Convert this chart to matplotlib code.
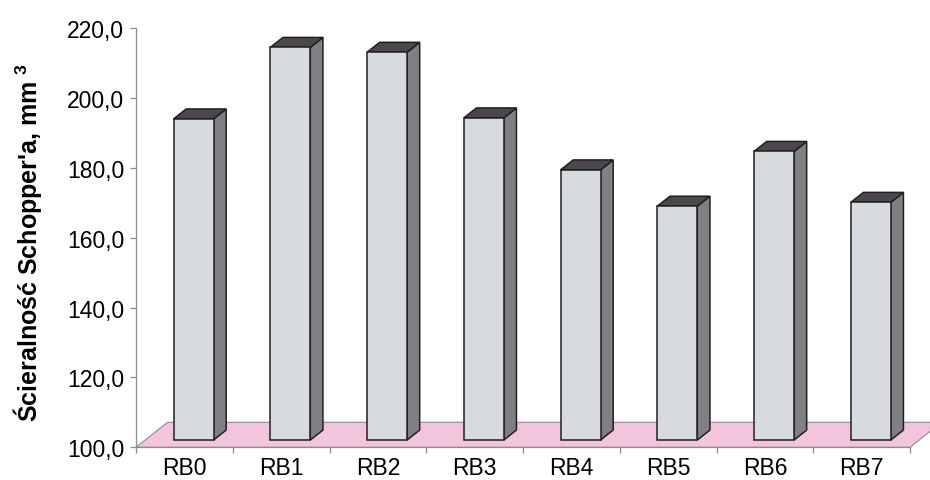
import matplotlib
matplotlib.use("Agg")
import matplotlib.pyplot as plt
from matplotlib.patches import Polygon
from matplotlib.ticker import FixedLocator

# Data
categories = ["RB0", "RB1", "RB2", "RB3", "RB4", "RB5", "RB6", "RB7"]
values = [192.0, 212.5, 211.1, 192.3, 177.4, 167.0, 182.7, 168.1]
y_ticks = [100, 120, 140, 160, 180, 200, 220]
y_label = "Ścieralność Schopper'a, mm $^{\\mathbf{3}}$"

plt.rcParams["font.family"] = ["Liberation Sans", "DejaVu Sans"]
plt.rcParams["mathtext.fontset"] = "custom"
plt.rcParams["mathtext.rm"] = "Liberation Sans"
plt.rcParams["mathtext.bf"] = "Liberation Sans:bold"

W, H = 930, 481
fig = plt.figure(figsize=(W / 100, H / 100), dpi=100)
ax_left, ax_right = 136, 910
ax_top, ax_bottom = 29.5, 448.3
ax = fig.add_axes([ax_left / W, (H - ax_bottom) / H,
                   (ax_right - ax_left) / W, (ax_bottom - ax_top) / H])
n = len(categories)
ymin, ymax = y_ticks[0], y_ticks[-1]
ax.set_xlim(0, n)
ax.set_ylim(ymin, ymax)

# pseudo-3D geometry expressed in data units
px_per_cat = (ax_right - ax_left) / n
px_per_val = (ax_bottom - ax_top) / (ymax - ymin)
depth_x = 31.6 / px_per_cat
depth_y = 25.0 / px_per_val
front, back = 0.29, 0.69
bar_w = 40.0 / px_per_cat

edge = "#231F20"
c_front, c_side, c_top = "#D8DBDE", "#807F84", "#4B474D"

# floor
floor = Polygon([(0, ymin), (n, ymin), (n + depth_x, ymin + depth_y),
                 (depth_x, ymin + depth_y)], closed=True,
                facecolor="#F2C5DC", edgecolor="#8C8C8C", lw=0.8,
                clip_on=False, zorder=1)
ax.add_patch(floor)

fx, fy = front * depth_x, front * depth_y
bx, by = back * depth_x, back * depth_y
for i, v in enumerate(values):
    x0 = i + 0.5 - bar_w / 2
    x1 = x0 + bar_w
    face = [(x0 + fx, ymin + fy), (x1 + fx, ymin + fy), (x1 + fx, v + fy), (x0 + fx, v + fy)]
    side = [(x1 + fx, ymin + fy), (x1 + bx, ymin + by), (x1 + bx, v + by), (x1 + fx, v + fy)]
    top = [(x0 + fx, v + fy), (x1 + fx, v + fy), (x1 + bx, v + by), (x0 + bx, v + by)]
    for pts, col in ((side, c_side), (top, c_top), (face, c_front)):
        ax.add_patch(Polygon(pts, closed=True, facecolor=col, edgecolor=edge,
                             lw=1.1, joinstyle="miter", clip_on=False, zorder=3))

# axes styling
axis_col = "#8C8C8C"
for s in ("top", "right"):
    ax.spines[s].set_visible(False)
for s in ("left", "bottom"):
    ax.spines[s].set_color(axis_col)
    ax.spines[s].set_linewidth(0.9)
    ax.spines[s].set_zorder(2)

ax.set_yticks(y_ticks)
ax.set_yticklabels([f"{t:.1f}".replace(".", ",") for t in y_ticks])
ax.tick_params(axis="y", direction="out", length=4.5, width=0.9,
               color=axis_col, labelsize=16.5, pad=4)

ax.set_xticks([i + 0.5 for i in range(n)])
ax.set_xticklabels(categories)
ax.xaxis.set_minor_locator(FixedLocator(list(range(n + 1))))
ax.tick_params(axis="x", which="major", length=0, labelsize=16.5, pad=6.5)
ax.tick_params(axis="x", which="minor", direction="out", length=4.5,
               width=0.9, color=axis_col)

fig.text(28 / W, (H - 242) / H, y_label, rotation=90, ha="center",
         va="center", fontsize=18, fontweight="bold")

fig.savefig("out.png", dpi=100)
